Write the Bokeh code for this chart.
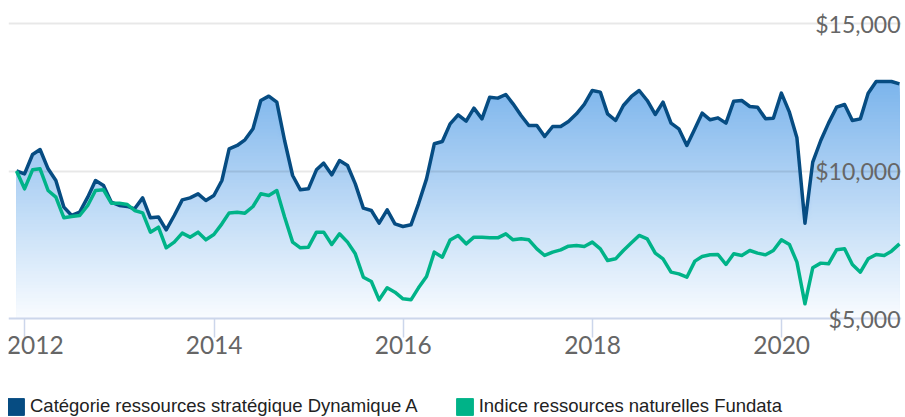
import numpy as np
import pandas as pd
from bokeh.plotting import figure
from bokeh.models import (FixedTicker, LabelSet, ColumnDataSource, Legend,
                          LegendItem, Range1d)
from bokeh.core.properties import value
from bokeh.embed import file_html
from bokeh.resources import INLINE

# ---------------- data ----------------
dates = pd.date_range("2011-11-30", periods=113, freq="ME")

fund_a = [
    10000, 9904, 10559, 10729, 10074, 9678, 8774, 8492, 8605, 9113,
    9678, 9509, 8944, 8831, 8800, 8718, 9090, 8413, 8440, 8006,
    8492, 9022, 9090, 9226, 9000, 9170, 9678, 10752, 10865, 11057,
    11430, 12390, 12537, 12334, 11034, 9848, 9362, 9396, 10040, 10266,
    9870, 10356, 10187, 9565, 8741, 8661, 8232, 8684, 8210, 8119,
    8175, 8887, 9734, 10922, 11000, 11599, 11904, 11690, 12130, 11768,
    12503, 12470, 12594, 12277, 11882, 11543, 11543, 11170, 11509, 11509,
    11678, 11938, 12255, 12729, 12673, 11938, 11712, 12221, 12526, 12729,
    12390, 11916, 12334, 11622, 11430, 10865, 11430, 11961, 11735, 11802,
    11622, 12368, 12390, 12187, 12164, 11768, 11790, 12639, 11995, 11125,
    8232, 10300, 11034, 11622, 12164, 12255, 11712, 11768, 12639, 13034,
    13034, 13034, 12955,
]

index_fundata = [
    10000, 9396, 10040, 10074, 9339, 9113, 8413, 8458, 8492, 8831,
    9339, 9362, 8910, 8910, 8865, 8661, 8582, 7927, 8096, 7396,
    7588, 7893, 7758, 7927, 7667, 7848, 8209, 8580, 8605, 8571,
    8797, 9226, 9170, 9339, 8440, 7588, 7396, 7418, 7927, 7927,
    7509, 7870, 7588, 7192, 6401, 6254, 5633, 6040, 5893, 5667,
    5633, 6040, 6424, 7249, 7079, 7660, 7814, 7531, 7758, 7758,
    7735, 7735, 7870, 7667, 7701, 7667, 7362, 7136, 7249, 7328,
    7452, 7475, 7441, 7588, 7362, 6966, 7023, 7305, 7565, 7814,
    7701, 7215, 7023, 6571, 6514, 6401, 6944, 7102, 7158, 7170,
    6831, 7192, 7136, 7305, 7215, 7158, 7305, 7667, 7509, 6910,
    5497, 6718, 6877, 6854, 7328, 7362, 6831, 6571, 7023, 7170,
    7136, 7283, 7531,
]

series_names = ["Catégorie ressources stratégique Dynamique A",
                "Indice ressources naturelles Fundata"]
x_tick_dates = ["2012-01-01", "2014-01-01", "2016-01-01", "2018-01-01", "2020-01-01"]
x_tick_labels = ["\u00a02012", "2014", "2016", "2018", "2020"]
y_ticks = [5000, 10000, 15000]
y_labels = ["$5,000", "$10,000", "$15,000"]

# ---------------- styles ----------------
DARK = "#064c82"
GREEN = "#00b388"
TOP_RGB = (124, 181, 236)
BOT_RGB = (250, 252, 255)
TXT_GRAY = "#666666"


def to_ms(d):
    return pd.to_datetime(d).values.astype("datetime64[ms]").astype(np.int64).astype(float)


x_ms = to_ms(dates)
tick_ms = [float(v) for v in to_ms(x_tick_dates)]
fund_arr = np.array(fund_a, dtype=float)
idx_arr = np.array(index_fundata, dtype=float)

W, H = 905, 417
B_LEFT, B_RIGHT, B_TOP = 8, 4, 8
frame_w = W - B_LEFT - B_RIGHT
frame_h = H - B_TOP

# x range: data start 8px inside frame, data end 2px from frame right
px_per_ms = (frame_w - 10) / (x_ms[-1] - x_ms[0])
x_start = x_ms[0] - 8 / px_per_ms
x_end = x_ms[-1] + 2 / px_per_ms

# y scale: 295 px between $5,000 and $15,000; $5,000 sits 310 px below frame top
px_per_unit = 295.0 / (y_ticks[2] - y_ticks[0])
y_hi = y_ticks[0] + 310 / px_per_unit
y_lo = y_hi - frame_h / px_per_unit

p = figure(width=W, height=H, output_backend="svg", toolbar_location=None,
           x_range=Range1d(x_start, x_end), y_range=Range1d(y_lo, y_hi),
           min_border_left=B_LEFT, min_border_right=B_RIGHT,
           min_border_top=B_TOP, min_border_bottom=0)
p.outline_line_color = None
p.background_fill_color = "white"
p.border_fill_color = "white"

base = float(y_ticks[0])

# gradient area fill under the first series (stacked bands, top first)
vmax = fund_arr.max()
levels = np.linspace(vmax, base, 71)[:-1]
for lv in levels:
    t = (lv - base) / (vmax - base)
    rgb = tuple(int(round(b + t * (a - b))) for a, b in zip(TOP_RGB, BOT_RGB))
    col = "#%02x%02x%02x" % rgb
    r = p.varea(x=x_ms, y1=base, y2=np.minimum(fund_arr, lv),
                fill_color=col, fill_alpha=1.0)
    r.level = "image"

p.line(x_ms, fund_arr, line_color=DARK, line_width=3.5, line_join="round")
p.line(x_ms, idx_arr, line_color=GREEN, line_width=3.5, line_join="round")

# grid
p.xgrid.visible = False
p.ygrid.ticker = FixedTicker(ticks=y_ticks[1:])
p.ygrid.grid_line_color = "#000000"
p.ygrid.grid_line_alpha = 0.09
p.ygrid.grid_line_width = 2
p.yaxis.visible = False

# x axis drawn at the $5,000 level inside the frame
xa = p.xaxis[0]
xa.fixed_location = base
xa.ticker = FixedTicker(ticks=tick_ms)
xa.major_label_overrides = {t: lab for t, lab in zip(tick_ms, x_tick_labels)}
xa.axis_line_color = "#ccd6eb"
xa.axis_line_width = 2
xa.major_tick_line_color = "#ccd6eb"
xa.major_tick_line_width = 1.5
xa.major_tick_out = 19
xa.major_tick_in = 0
xa.minor_tick_line_color = None
xa.major_label_text_font = "Lato"
xa.major_label_text_font_size = "24.5px"
xa.major_label_text_color = TXT_GRAY
xa.major_label_standoff = -8

# y labels inside plot at right edge
ysrc = ColumnDataSource(dict(x=[x_ms[-1]] * len(y_ticks), y=y_ticks, text=y_labels))
ylabs = LabelSet(x="x", y="y", text="text", source=ysrc, text_align="right",
                 text_baseline="middle", text_font=value("Lato"),
                 text_font_size=value("23px"), text_color=TXT_GRAY, x_offset=1)
p.add_layout(ylabs)

# legend swatches: renderers with one undrawable (NaN) entry so only the key shows
nan1 = np.array([np.nan])
r1 = p.quad(left=nan1, right=nan1, top=nan1, bottom=nan1, fill_color=DARK, line_color=DARK)
r2 = p.quad(left=nan1, right=nan1, top=nan1, bottom=nan1, fill_color=GREEN, line_color=GREEN)
legend = Legend(items=[LegendItem(label=series_names[0], renderers=[r1]),
                       LegendItem(label=series_names[1], renderers=[r2])],
                orientation="horizontal", location=(-3, 0),
                glyph_width=21, glyph_height=21, label_standoff=4, spacing=36,
                padding=0, margin=0, border_line_alpha=0, background_fill_alpha=0,
                label_text_font="Liberation Sans", label_text_font_size="18.5px",
                label_text_color="#222222", label_height=21)
p.add_layout(legend)

open("out.html", "w").write(file_html(p, INLINE))
